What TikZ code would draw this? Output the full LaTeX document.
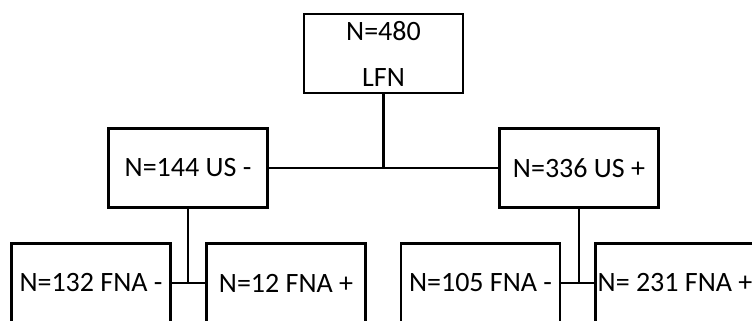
\documentclass[tikz,border=0pt]{standalone}
\usepackage{fontspec}
\setmainfont{Carlito}
\begin{document}
\begin{tikzpicture}[x=1pt,y=-1pt,
  box/.style={draw, line width=2.8pt, minimum width=159pt, minimum height=79pt, inner sep=0pt, font=\fontsize{28}{46}\selectfont, align=center},
  conn/.style={line width=2.8pt}]
\clip (0,0) rectangle (752,321);
\fill[white] (0,0) rectangle (752,321);
\node[box] (lfn) at (383.5,53.5) {N=480\\LFN};
\node[box] (usm) at (188,168) {N=144 US -};
\node[box] (usp) at (579,168) {N=336 US +};
\node[box] (f1) at (91,283) {N=132 FNA -};
\node[box] (f2) at (286,283) {N=12 FNA +};
\node[box] (f3) at (480.5,283) {N=105 FNA -};
\node[box] (f4) at (675,283) {N= 231 FNA +};
\coordinate (j0) at (lfn.south |- usm.east);
\coordinate (j1) at (usm.south |- f1.east);
\coordinate (j2) at (usp.south |- f3.east);
\draw[conn] (lfn.south) -- (j0);
\draw[conn] (usm.east) -- (usp.west);
\draw[conn] (usm.south) -- (j1);
\draw[conn] (f1.east) -- (f2.west);
\draw[conn] (usp.south) -- (j2);
\draw[conn] (f3.east) -- (f4.west);
\end{tikzpicture}
\end{document}
